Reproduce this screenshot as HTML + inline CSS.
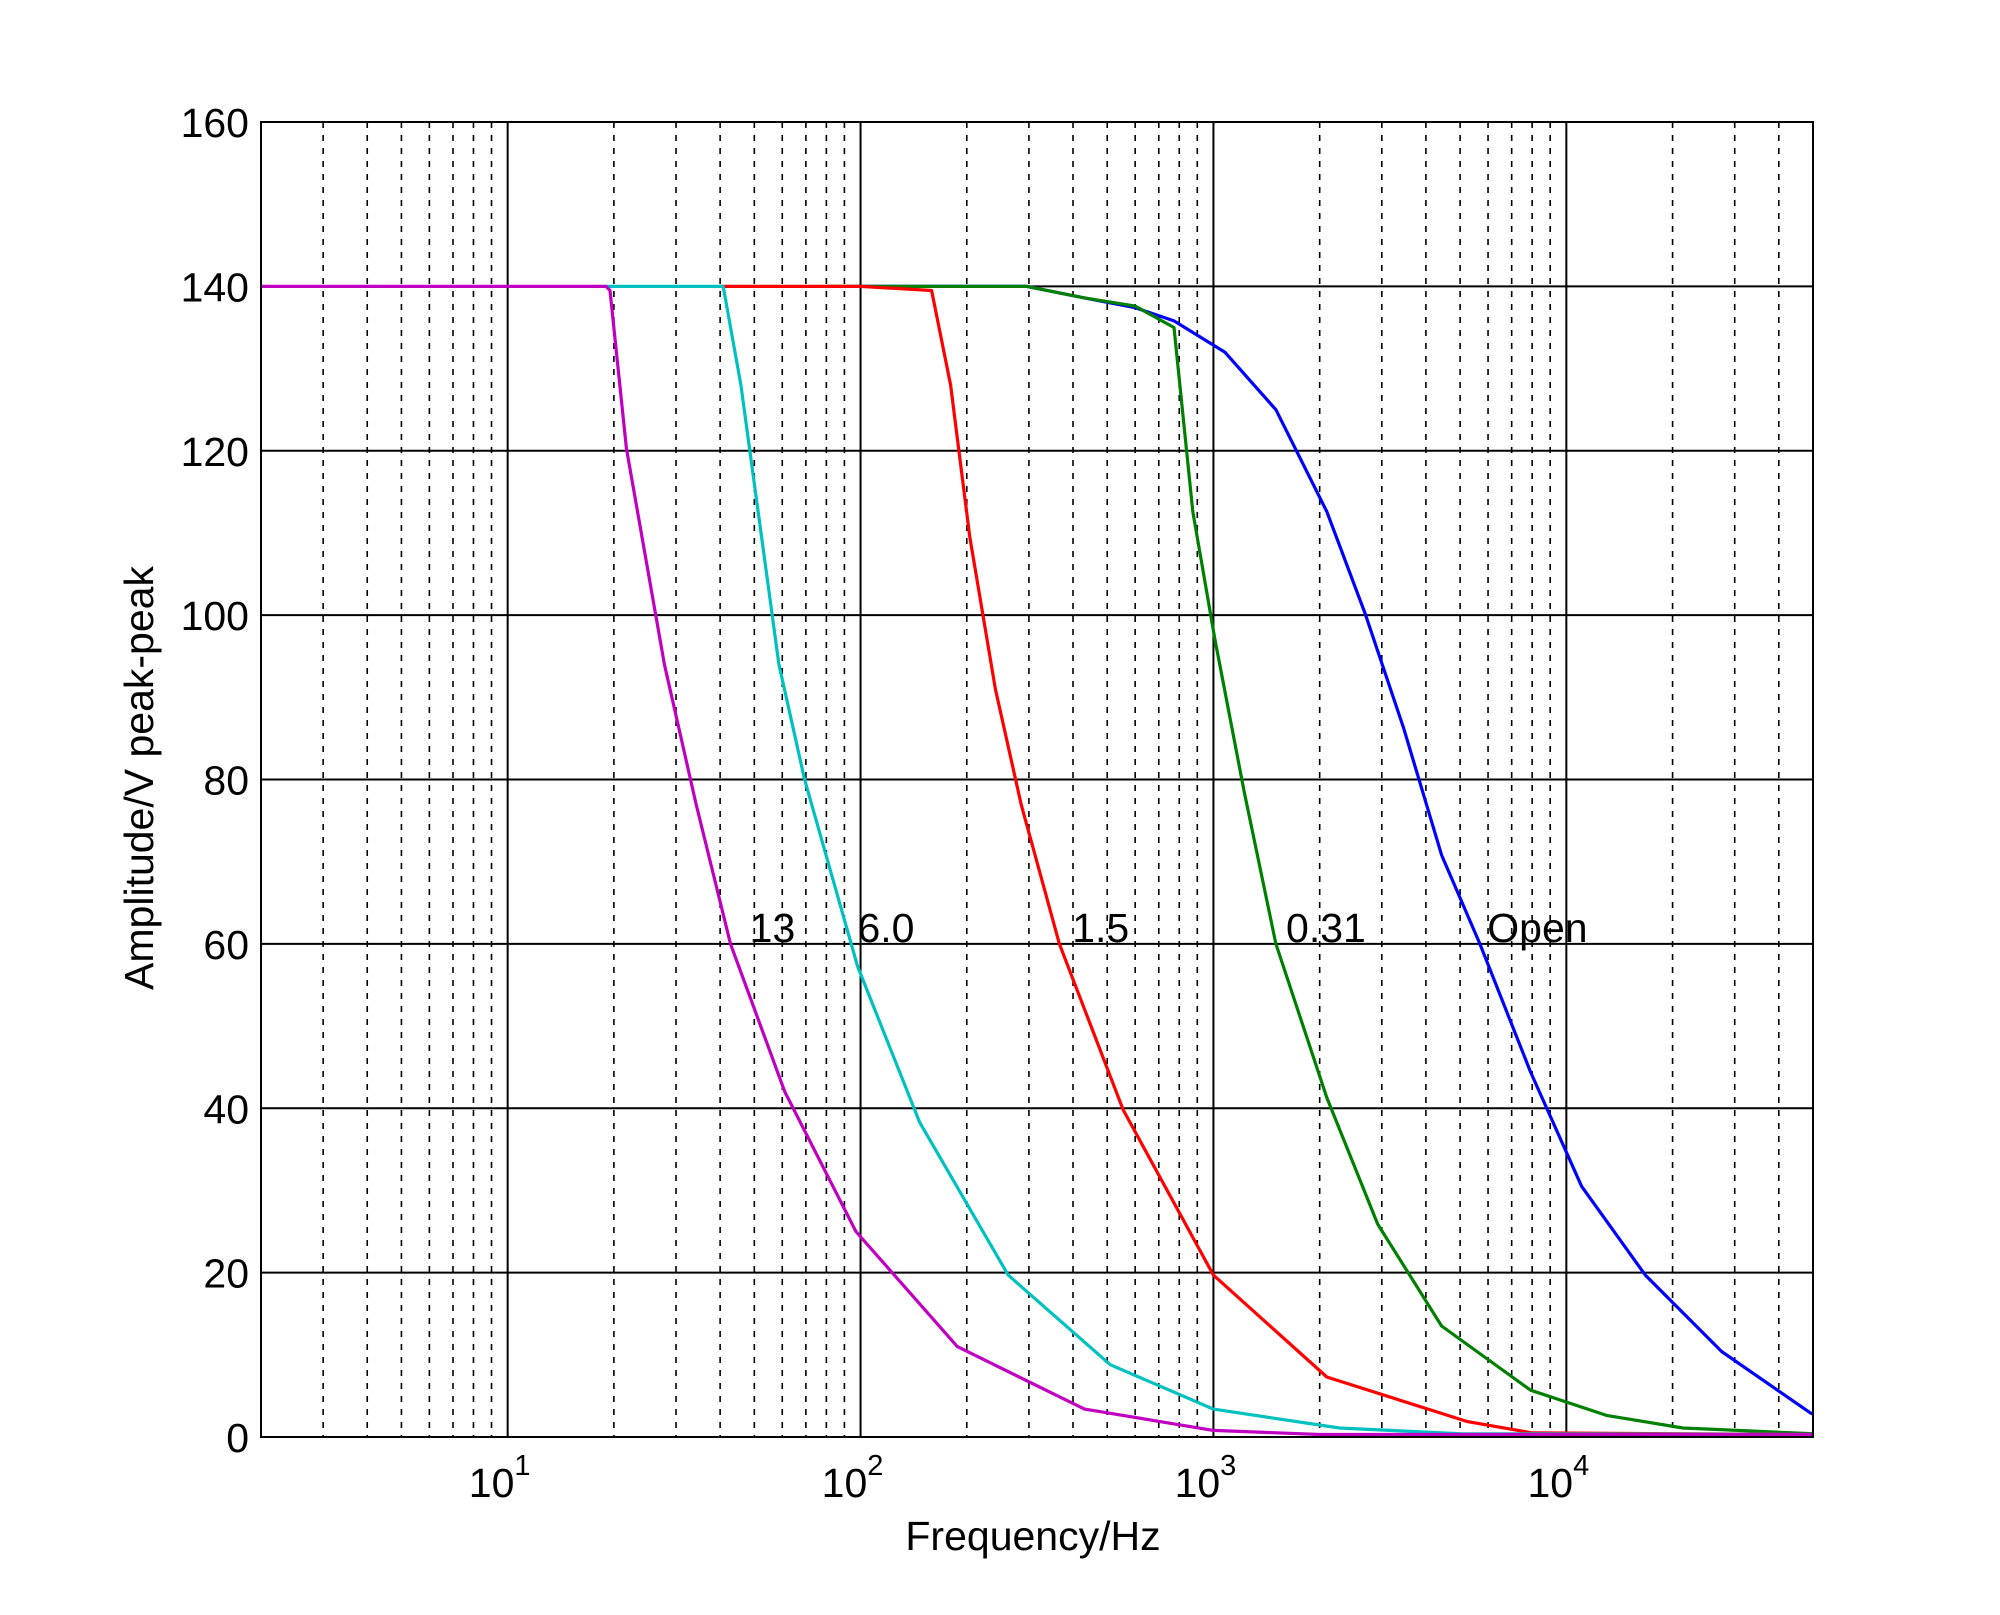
<!DOCTYPE html>
<html><head><meta charset="utf-8"><style>
html,body{margin:0;padding:0;background:#fff;}
svg{display:block;font-family:"Liberation Sans",Arial,sans-serif;}
</style></head><body>
<svg id="chart" width="2000" height="1615" viewBox="0 0 2000 1615">
<rect x="0" y="0" width="2000" height="1615" fill="#fff"/>
<g id="grid"></g>
<g id="series"></g>
<rect x="261" y="122" width="1552" height="1315" fill="none" stroke="#000" stroke-width="2"/>
<g id="ticks"></g>
<g id="labels"></g>
<text x="1033" y="1550" font-size="41" text-anchor="middle">Frequency/Hz</text>
<text x="0" y="0" font-size="41" text-anchor="middle" transform="translate(153,778) rotate(-90)">Amplitude/V peak-peak</text>
</svg>
<script>
const yTicks=[0,20,40,60,80,100,120,140,160];
const xMajor=[1,2,3,4];
const seriesNames=["13","6.0","1.5","0.31","Open"];
const seriesColors=["#c000c0","#00c0c0","#ff0000","#008000","#0000ff"];
const magentaF=[2,19,19.5,21.7,27.8,34.2,42.8,61,97,188,431,1000,2000,50000];
const magentaA=[140,140,139.5,120.3,94,77,60,42,25,11,3.4,0.8,0.3,0.3];
const cyanF=[19,40.8,45.8,58.7,69.4,98,147,262,510,1000,2275,5000,50000];
const cyanA=[140,140,128,94,80,57.3,38.3,19.7,8.8,3.4,1.1,0.4,0.3];
const redF=[40,100,159,180,204,241,285,366,555,1000,2095,5220,8000,50000];
const redA=[140,140,139.5,128,109.5,91,77,60,39.8,19.7,7.3,1.9,0.5,0.3];
const greenF=[80,296,431,600,773,874,1010,1222,1503,2095,2921,4430,7920,13060,21400,50000];
const greenA=[140,140,138.6,137.6,135,112.6,97,78.5,60,41.3,25.9,13.5,5.7,2.6,1.1,0.4];
const blueF=[100,296,431,600,773,1077,1503,2095,2690,3455,4430,5690,7920,11050,16740,27540,49300,50000];
const blueA=[140,140,138.6,137.4,135.8,132,125,112.6,100.2,86.3,70.8,60,44.4,30.5,19.7,10.4,2.9,2.8];
const allF=[magentaF,cyanF,redF,greenF,blueF];
const allA=[magentaA,cyanA,redA,greenA,blueA];
const labelF=[48.5,98,398,1606,5970];
const labelA=[60,60,60,60,60];

const L=261,R=1813,T=122,B=1437,xMin=Math.log10(2),xMax=Math.log10(50000),yMax=160;
const xs=f=>L+(Math.log10(f)-xMin)/(xMax-xMin)*(R-L);
const ys=a=>B-a/yMax*(B-T);
const NS="http://www.w3.org/2000/svg";
function mk(tag,parent){const e=document.createElementNS(NS,tag);parent.appendChild(e);return e;}
const grid=document.getElementById('grid'),ticks=document.getElementById('ticks');
for(let d=0;d<=4;d++){for(let m=1;m<=9;m++){const f=m*Math.pow(10,d);if(f<=2||f>=50000)continue;
 const ln=mk('line',grid);ln.setAttribute('x1',xs(f));ln.setAttribute('x2',xs(f));ln.setAttribute('y1',T);ln.setAttribute('y2',B);
 ln.setAttribute('stroke','#000');
 if(m===1){ln.setAttribute('stroke-width','2');}
 else{ln.setAttribute('stroke-width','1.6');ln.setAttribute('stroke-dasharray','6 7');}
 }}
yTicks.forEach(v=>{const ln=mk('line',grid);ln.setAttribute('x1',L);ln.setAttribute('x2',R);ln.setAttribute('y1',ys(v));ln.setAttribute('y2',ys(v));
 ln.setAttribute('stroke','#000');ln.setAttribute('stroke-width','2');
 
 
 const t=mk('text',ticks);t.setAttribute('x',L-12);t.setAttribute('y',ys(v)+15);t.setAttribute('text-anchor','end');t.setAttribute('font-size','41');t.textContent=v;
 
 });
xMajor.forEach(p=>{const t=mk('text',ticks);t.setAttribute('x',xs(Math.pow(10,p))-8);t.setAttribute('y',B+60);t.setAttribute('text-anchor','middle');t.setAttribute('font-size','41');
 t.innerHTML='10<tspan dy="-22" font-size="29">'+p+'</tspan>';
 
 });
const sg=document.getElementById('series');
for(let i=allF.length-1;i>=0;i--){const F=allF[i],A=allA[i];const p=mk('polyline',sg);
 p.setAttribute('points',F.map((f,j)=>xs(f).toFixed(1)+','+ys(A[j]).toFixed(1)).join(' '));
 p.setAttribute('fill','none');p.setAttribute('stroke',seriesColors[i]);p.setAttribute('stroke-width','3.2');p.setAttribute('stroke-linejoin','round');
 
 }
const lg=document.getElementById('labels');
seriesNames.forEach((n,i)=>{const t=mk('text',lg);t.setAttribute('x',xs(labelF[i]));t.setAttribute('y',ys(labelA[i])-2);t.setAttribute('font-size','41');t.textContent=n;
 
 });
</script>
</body></html>
